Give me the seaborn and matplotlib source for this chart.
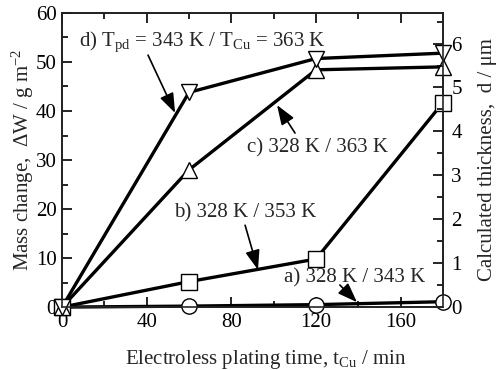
import seaborn as sns
import pandas as pd
import matplotlib.pyplot as plt
import numpy as np
from matplotlib.ticker import MultipleLocator

#-----------------------------------------------------------------------------------------------------------------------
"""Data"""
time_min = [0, 60, 120, 180]

mass_a = [0, 0.2, 0.5, 1.1]      # a) 328 K / 343 K
mass_b = [0, 5.2, 9.8, 41.7]     # b) 328 K / 353 K
mass_c = [0, 28.0, 48.4, 49.0]   # c) 328 K / 363 K
mass_d = [0, 43.8, 50.7, 51.8]   # d) 343 K / 363 K

series_names = ['a', 'b', 'c', 'd']
series_markers = {'a': 'o', 'b': 's', 'c': '^', 'd': 'v'}

cu_density = 8.96  # g/cm3 -> 1 g/m2 = 1/8.96 um

df = pd.DataFrame({
    'time': time_min * 4,
    'mass': mass_a + mass_b + mass_c + mass_d,
    'series': [s for s in series_names for _ in time_min],
})

#-----------------------------------------------------------------------------------------------------------------------
"""Figure"""
sns.set_style('ticks')
plt.rcParams['font.family'] = ['Liberation Serif', 'DejaVu Serif']
plt.rcParams['mathtext.fontset'] = 'custom'
plt.rcParams['mathtext.rm'] = 'Liberation Serif'
plt.rcParams['mathtext.it'] = 'Liberation Serif'
plt.rcParams['xtick.direction'] = 'in'
plt.rcParams['ytick.direction'] = 'in'

fs = 15

fig, ax = plt.subplots(figsize=(5.01, 3.70), dpi=100)
fig.subplots_adjust(left=0.124, right=0.884, top=0.965, bottom=0.170)

for s in series_names:
    sub = df[df['series'] == s]
    sns.lineplot(data=sub, x='time', y='mass', ax=ax, color='black', lw=2.4,
                 marker=series_markers[s], markersize=11, markerfacecolor='white',
                 markeredgecolor='black', markeredgewidth=1.0, clip_on=False, zorder=3)

#-----------------------------------------------------------------------------------------------------------------------
"""Axes"""
ax.set_xlim(0, 180)
ax.set_ylim(0, 60)
ax.xaxis.set_major_locator(MultipleLocator(40))
ax.xaxis.set_minor_locator(MultipleLocator(20))
ax.yaxis.set_major_locator(MultipleLocator(10))
ax.yaxis.set_minor_locator(MultipleLocator(5))
ax.tick_params(which='both', top=True, right=False, labelsize=fs, width=1.2, colors='black', pad=4)
ax.tick_params(which='major', length=7)
ax.tick_params(which='minor', length=4)
for sp in ax.spines.values():
    sp.set_linewidth(1.2)
    sp.set_color('black')

ax.set_xlabel('Electroless plating time, t$_{\\mathrm{Cu}}$ / min', fontsize=fs)
ax.xaxis.set_label_coords(0.534, -0.14)
ax.set_ylabel('Mass change,  \u0394W / g m$^{-2}$', fontsize=fs, labelpad=0)

ax2 = ax.twinx()
ax2.set_ylim(0, 60 / cu_density)
ax2.yaxis.set_major_locator(MultipleLocator(1))
ax2.yaxis.set_minor_locator(MultipleLocator(0.5))
ax2.tick_params(which='both', labelsize=fs, width=1.2, colors='black', direction='in', pad=6)
ax2.tick_params(which='major', length=7)
ax2.tick_params(which='minor', length=4)
ax2.set_ylabel('Calculated thickness,  d / \u03bcm', fontsize=fs, labelpad=12)
for sp in ax2.spines.values():
    sp.set_linewidth(1.2)

#-----------------------------------------------------------------------------------------------------------------------
"""Labels and arrows"""
arrow = dict(arrowstyle='-|>,head_length=0.6,head_width=0.22', color='black', lw=1.2,
             mutation_scale=20, shrinkA=0, shrinkB=0)

ax.text(8.0, 54.2, 'd) T$_{\\mathrm{pd}}$ = 343 K / T$_{\\mathrm{Cu}}$ = 363 K', fontsize=fs, va='center')
ax.annotate('', xy=(53.4, 39.6), xytext=(40.6, 51.4), arrowprops=arrow)

ax.text(87.5, 32.4, 'c) 328 K / 363 K', fontsize=fs, va='center')
ax.annotate('', xy=(101.6, 41.2), xytext=(110.1, 35.5), arrowprops=arrow)

ax.text(53.0, 19.2, 'b) 328 K / 353 K', fontsize=fs, va='center')
ax.annotate('', xy=(92.6, 7.6), xytext=(86.5, 16.7), arrowprops=arrow)

ax.text(105.0, 5.9, 'a) 328 K / 343 K', fontsize=fs, va='center')
ax.annotate('', xy=(139.4, 1.0), xytext=(131.3, 4.5), arrowprops=arrow)

#-----------------------------------------------------------------------------------------------------------------------
"""Save"""
fig.savefig('out.png', dpi=100)
